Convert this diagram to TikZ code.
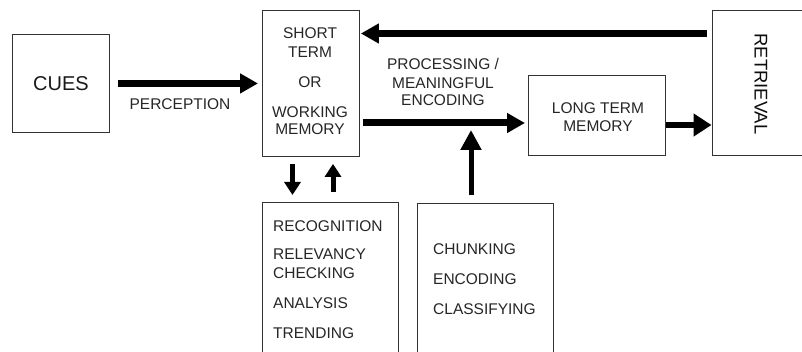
\documentclass[tikz,border=0pt]{standalone}
\usepackage{fontspec}
\setmainfont{Liberation Sans}
\usetikzlibrary{arrows.meta}
\begin{document}
\begin{tikzpicture}[x=1pt,y=-1pt,
  box/.style={draw=black!80, line width=0.9pt, inner sep=0pt, anchor=north west},
  lbl/.style={inner sep=0pt, text=black!85, font=\fontsize{15.5}{18}\selectfont},
  fat/.style={line width=7pt, -{Triangle[length=18pt,width=19pt]}},
  thin/.style={line width=5pt, -{Triangle[length=13pt,width=16pt]}}]
\useasboundingbox (0,0) rectangle (802,352);
\clip (0,0) rectangle (802,352);

% boxes
\node[box, minimum width=97pt, minimum height=98pt, text=black!90,
      font=\fontsize{20}{24}\selectfont] (cues) at (12,34) {CUES};
\node[box, minimum width=97pt, minimum height=146pt] (stm) at (262,10) {};
\node[box, minimum width=137pt, minimum height=80pt] (ltm) at (528,75) {};
\node[box, minimum width=100pt, minimum height=145pt] (retr) at (712,10) {};
\node[box, minimum width=136pt, minimum height=160pt] (box1) at (262,202) {};
\node[box, minimum width=136pt, minimum height=160pt] (box2) at (417,203) {};

% texts
\node[lbl, anchor=north, align=center] (stmtext) at (310,27)
  {SHORT\\[1.5pt]TERM\\[12pt]OR\\[12pt]WORKING\\[-1.5pt]MEMORY};
\node[lbl, anchor=north, align=center] (ltmtext) at (598,102.5)
  {LONG TERM\\MEMORY};
\node[inner sep=0pt, rotate=-90, text=black!95,
      font=\fontsize{18.4}{22}\selectfont] (retrtext) at (761,84) {RETRIEVAL};
\node[lbl] (perc) at (180,104) {PERCEPTION};
\node[lbl, anchor=north, align=center] (proc) at (443,58.5)
  {PROCESSING /\\[1pt]MEANINGFUL\\[-1pt]ENCODING};
\node[lbl, anchor=north west, align=left] (list1) at (273,220.5)
  {RECOGNITION\\[10pt]RELEVANCY\\[0.5pt]CHECKING\\[12pt]ANALYSIS\\[12pt]TRENDING};
\node[lbl, anchor=north west, align=left] (list2) at (433,243.5)
  {CHUNKING\\[12pt]ENCODING\\[11.5pt]CLASSIFYING};

% rows and columns of the connectors
\coordinate (toprow) at (0,33.5);
\coordinate (midrow) at (0,123);
\coordinate (lowrow) at (0,125);
\coordinate (dncol) at (292.5,0);
\coordinate (upcol) at (333,0);
\coordinate (chcol) at (471,0);

% connectors
\draw[fat, shorten <=8pt, shorten >=4pt] (cues.east) -- (stm.west |- cues.east);
\draw[fat, shorten <=5pt, shorten >=1pt] (retr.west |- toprow) -- (stm.east |- toprow);
\draw[fat, shorten <=3pt, shorten >=3pt] (stm.east |- midrow) -- (ltm.west |- midrow);
\draw[line width=6pt, -{Triangle[length=18pt,width=22pt]}, shorten >=0.5pt]
  (ltm.east |- lowrow) -- (retr.west |- lowrow);
\draw[thin, shorten <=7pt, shorten >=7pt] (stm.south -| dncol) -- (box1.north -| dncol);
\draw[thin, shorten <=10pt, shorten >=7pt] (box1.north -| upcol) -- (stm.south -| upcol);
\draw[line width=5pt, -{Triangle[length=20pt,width=20pt]}, shorten <=8pt, shorten >=7pt]
  (box2.north -| chcol) -- (chcol |- midrow);
\end{tikzpicture}
\end{document}
